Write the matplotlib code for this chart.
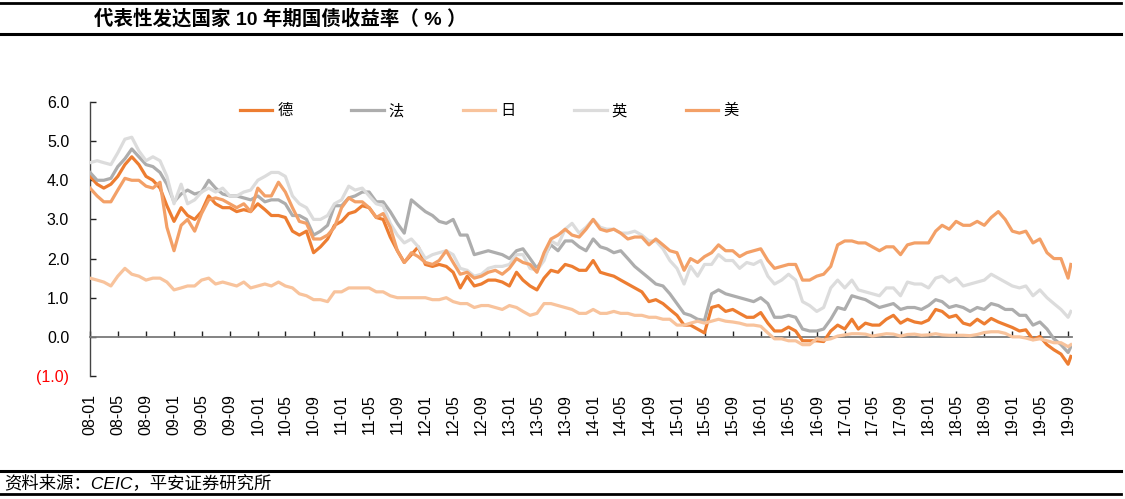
import matplotlib
matplotlib.use('Agg')
import matplotlib.pyplot as plt
import matplotlib.dates as mdates
import pandas as pd

plt.rcParams['font.family'] = ['Liberation Sans', 'Noto Sans CJK SC']

# month-start readings 2008-01 .. 2019-09, plus the last day in the chart
months = list(pd.date_range('2008-01-01', '2019-09-01', freq='MS')) + [pd.Timestamp('2019-09-13')]

de = [4.1, 3.9, 3.8, 3.9, 4.1, 4.4, 4.6, 4.4, 4.1, 4.0, 3.8, 3.35,
      2.95, 3.3, 3.1, 3.0, 3.2, 3.6, 3.4, 3.3, 3.3, 3.2, 3.25, 3.2,
      3.4, 3.25, 3.1, 3.1, 3.05, 2.7, 2.6, 2.7, 2.15, 2.3, 2.5, 2.85,
      2.95, 3.15, 3.2, 3.35, 3.3, 3.05, 3.0, 2.55, 2.2, 1.9, 2.1, 2.3,
      1.85, 1.8, 1.85, 1.8, 1.65, 1.25, 1.55, 1.3, 1.35, 1.45, 1.45, 1.4,
      1.3, 1.65, 1.45, 1.3, 1.2, 1.5, 1.7, 1.65, 1.85, 1.8, 1.7, 1.7,
      1.95, 1.65, 1.6, 1.55, 1.45, 1.35, 1.25, 1.15, 0.9, 0.95, 0.85, 0.7,
      0.55, 0.3, 0.3, 0.2, 0.1, 0.75, 0.8, 0.65, 0.7, 0.6, 0.5, 0.5,
      0.62, 0.35, 0.15, 0.15, 0.25, 0.15, -0.1, -0.1, -0.1, -0.12, 0.15, 0.3,
      0.2, 0.45, 0.2, 0.35, 0.3, 0.3, 0.45, 0.55, 0.35, 0.45, 0.38, 0.35,
      0.43, 0.7, 0.65, 0.5, 0.55, 0.35, 0.3, 0.45, 0.33, 0.47, 0.38, 0.31,
      0.24, 0.15, 0.18, -0.07, 0.01, -0.2, -0.33, -0.44, -0.7, -0.5]

fr = [4.2, 4.0, 4.0, 4.05, 4.35, 4.55, 4.8, 4.6, 4.4, 4.35, 4.2, 3.9,
      3.45, 3.65, 3.75, 3.65, 3.7, 4.0, 3.8, 3.65, 3.6, 3.6, 3.55, 3.5,
      3.6, 3.45, 3.5, 3.5, 3.4, 3.1, 3.1, 3.0, 2.6, 2.7, 2.85, 3.35,
      3.35, 3.55, 3.6, 3.7, 3.7, 3.45, 3.45, 3.2, 2.9, 2.65, 3.5, 3.35,
      3.2, 3.1, 2.95, 2.9, 3.0, 2.6, 2.6, 2.1, 2.15, 2.2, 2.15, 2.1,
      2.0, 2.2, 2.25, 2.0, 1.75, 2.05, 2.35, 2.2, 2.45, 2.45, 2.3, 2.2,
      2.5, 2.3, 2.25, 2.15, 2.2, 2.0, 1.8, 1.65, 1.5, 1.35, 1.3, 1.1,
      0.85, 0.6, 0.55, 0.45, 0.42, 1.1, 1.2, 1.1, 1.05, 1.0, 0.95, 0.9,
      1.0, 0.85, 0.5, 0.5, 0.55, 0.5, 0.2, 0.15, 0.15, 0.2, 0.45, 0.75,
      0.7, 1.05, 1.0, 0.95, 0.85, 0.75, 0.8, 0.85, 0.7, 0.75, 0.75, 0.7,
      0.8, 0.95, 0.9, 0.75, 0.8, 0.75, 0.65, 0.75, 0.7, 0.85, 0.8, 0.7,
      0.7, 0.55, 0.55, 0.3, 0.38, 0.2, -0.05, -0.2, -0.4, -0.25]

jp = [1.5, 1.45, 1.4, 1.3, 1.55, 1.75, 1.6, 1.55, 1.45, 1.5, 1.5, 1.4,
      1.2, 1.25, 1.3, 1.3, 1.45, 1.5, 1.35, 1.4, 1.35, 1.3, 1.4, 1.25,
      1.3, 1.35, 1.3, 1.4, 1.3, 1.25, 1.1, 1.05, 0.95, 0.95, 0.9, 1.15,
      1.15, 1.25, 1.25, 1.25, 1.25, 1.15, 1.15, 1.05, 1.0, 1.0, 1.0, 1.0,
      1.0, 0.95, 0.95, 1.0, 0.9, 0.85, 0.85, 0.75, 0.8, 0.8, 0.75, 0.7,
      0.8, 0.75, 0.65, 0.55, 0.6, 0.85, 0.85, 0.8, 0.75, 0.7, 0.6, 0.6,
      0.7, 0.6, 0.6, 0.65, 0.6, 0.6, 0.55, 0.55, 0.5, 0.5, 0.45, 0.45,
      0.3, 0.3, 0.35, 0.4, 0.35, 0.4, 0.45, 0.4, 0.38, 0.35, 0.3, 0.3,
      0.27, 0.1, -0.05, -0.05, -0.1, -0.1, -0.2, -0.2, -0.05, -0.08, -0.05, 0.02,
      0.05, 0.08, 0.08, 0.07, 0.02, 0.05, 0.08, 0.07, 0.02, 0.06, 0.07, 0.04,
      0.05, 0.08, 0.05, 0.04, 0.04, 0.04, 0.03, 0.06, 0.11, 0.13, 0.13, 0.09,
      0.0, 0.0, -0.03, -0.08, -0.05, -0.1, -0.15, -0.15, -0.25, -0.2]

uk = [4.45, 4.5, 4.45, 4.4, 4.7, 5.05, 5.1, 4.75, 4.5, 4.6, 4.5, 4.1,
      3.4, 3.9, 3.4, 3.5, 3.7, 3.8, 3.7, 3.8, 3.6, 3.6, 3.7, 3.75,
      4.0, 4.1, 4.2, 4.2, 4.1, 3.6, 3.4, 3.3, 3.0, 3.0, 3.1, 3.4,
      3.5, 3.85, 3.75, 3.8, 3.6, 3.4, 3.35, 2.9, 2.6, 2.4, 2.5, 2.3,
      2.0, 2.1, 2.15, 2.2, 2.1, 1.75, 1.7, 1.55, 1.6, 1.75, 1.8, 1.8,
      1.85, 2.1, 2.1, 1.75, 1.7, 1.95, 2.45, 2.35, 2.75, 2.9, 2.65, 2.8,
      3.0, 2.8, 2.75, 2.75, 2.65, 2.65, 2.7, 2.6, 2.45, 2.45, 2.25, 1.95,
      1.75, 1.35, 1.8, 1.55, 1.85, 1.85, 2.1, 1.95, 1.95, 1.75, 1.9, 1.85,
      1.95, 1.55, 1.35, 1.45, 1.6, 1.45, 0.9, 0.8, 0.65, 0.75, 1.25, 1.45,
      1.25, 1.45, 1.2, 1.15, 1.1, 1.05, 1.25, 1.25, 1.05, 1.4, 1.35, 1.35,
      1.25, 1.5, 1.55, 1.4, 1.5, 1.3, 1.35, 1.4, 1.45, 1.6, 1.5, 1.4,
      1.3, 1.25, 1.3, 1.05, 1.2, 1.0, 0.85, 0.7, 0.5, 0.65]

us = [3.8, 3.6, 3.45, 3.45, 3.75, 4.05, 4.0, 4.0, 3.85, 3.8, 3.95, 2.8,
      2.2, 2.85, 3.0, 2.7, 3.15, 3.5, 3.55, 3.5, 3.4, 3.3, 3.4, 3.2,
      3.8, 3.6, 3.6, 3.95, 3.7, 3.3, 2.95, 2.9, 2.5, 2.5, 2.6, 2.8,
      3.3, 3.55, 3.45, 3.45, 3.3, 3.05, 3.15, 2.8, 2.2, 1.9, 2.15, 2.05,
      1.9, 1.85, 1.95, 2.2, 1.9, 1.6, 1.65, 1.5, 1.55, 1.65, 1.7, 1.6,
      1.75, 2.0, 1.9, 1.85, 1.65, 2.15, 2.5, 2.6, 2.75, 2.6, 2.55, 2.75,
      3.0, 2.75, 2.7, 2.75, 2.65, 2.5, 2.55, 2.55, 2.35, 2.5, 2.35, 2.2,
      2.15, 1.7, 2.0, 1.9, 2.05, 2.15, 2.35, 2.2, 2.2, 2.05, 2.15, 2.2,
      2.25, 1.95, 1.75, 1.8, 1.85, 1.85, 1.45, 1.45, 1.55, 1.6, 1.8, 2.35,
      2.45, 2.45, 2.4, 2.4, 2.3, 2.2, 2.3, 2.3, 2.1, 2.35, 2.4, 2.4,
      2.4, 2.7, 2.85, 2.75, 2.95, 2.85, 2.85, 2.95, 2.85, 3.05, 3.2, 3.0,
      2.7, 2.65, 2.7, 2.4, 2.5, 2.15, 2.0, 2.0, 1.5, 1.85]

series = [('德', de, '#ED7D31'),
          ('法', fr, '#ADADAD'),
          ('日', jp, '#F8C39C'),
          ('英', uk, '#DCDCDC'),
          ('美', us, '#F3A067')]

y_ticks = [-1, 0, 1, 2, 3, 4, 5, 6]
y_labels = ['(1.0)', '0.0', '1.0', '2.0', '3.0', '4.0', '5.0', '6.0']

fig = plt.figure(figsize=(11.25, 4.99), dpi=100)
ax = fig.add_axes([0.08, 0.2465, 0.8729, 0.5491])

for name, vals, col in series:
    ax.plot(months, vals, color=col, lw=2.3, label=name, zorder=3)

ax.set_ylim(-1, 6)
ax.set_xlim(pd.Timestamp('2008-01-01'), pd.Timestamp('2019-09-18'))
ax.set_yticks(y_ticks)
ax.set_yticklabels(y_labels, fontsize=11.5)
ax.get_yticklabels()[0].set_color('red')

ax.xaxis.set_major_locator(mdates.MonthLocator(bymonth=[1, 5, 9]))
ax.xaxis.set_major_formatter(mdates.DateFormatter('%y-%m'))
ax.tick_params(axis='x', direction='in', length=4, width=1, color='#222222',
               labelsize=11.5, rotation=90, pad=41)
ax.tick_params(axis='y', direction='in', length=4, width=1, color='#222222', pad=15)

for s in ['top', 'right']:
    ax.spines[s].set_visible(False)
ax.spines['bottom'].set_position(('data', 0))
ax.spines['bottom'].set_color('#7a7a7a')
ax.spines['bottom'].set_linewidth(1.3)
ax.spines['left'].set_color('#444444')
ax.spines['left'].set_linewidth(1.0)

fig.legend(loc='center left', bbox_to_anchor=(0.2133, 0.7776), ncol=5, frameon=False,
           fontsize=11, handlelength=2.1, handletextpad=0.35, columnspacing=3.85,
           borderpad=0, borderaxespad=0)

# header / footer rules
for y, lw in [(0.994, 2.0), (0.932, 2.2), (0.056, 2.2), (0.01, 2.0)]:
    fig.add_artist(plt.Line2D([0.0, 0.996], [y, y], color='black', lw=lw))

fig.text(0.084, 0.962, '代表性发达国家 10 年期国债收益率（ % ）', fontsize=14,
         fontweight='bold', va='center', ha='left')
fig.text(0.004, 0.032, '资料来源：CEIC，平安证券研究所', fontsize=12.5,
         style='italic', va='center', ha='left')

fig.savefig('out.png', dpi=100)
